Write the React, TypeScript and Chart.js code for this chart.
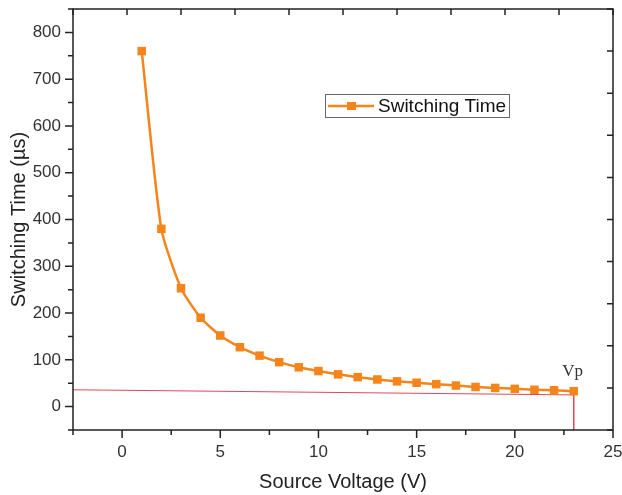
import React, { useEffect, useRef } from "react";
import { Chart, registerables } from "chart.js";

Chart.register(...registerables);

const voltages = [1, 2, 3, 4, 5, 6, 7, 8, 9, 10, 11, 12, 13, 14, 15, 16, 17, 18, 19, 20, 21, 22, 23];
const switchingTimes = [760, 380, 253, 190, 152, 127, 109, 95, 84, 76, 69, 63, 58, 54, 51, 48, 45, 42, 40, 38, 36, 35, 33];
const refLineX = [-2.5, 23, 23];
const refLineY = [36, 25, -50];
const xMajorTicks = [0, 5, 10, 15, 20, 25];
const xMinorTicks = [-2.5, 2.5, 7.5, 12.5, 17.5, 22.5];
const yMajorTicks = [0, 100, 200, 300, 400, 500, 600, 700, 800];
const yMinorTicks = [-50, 50, 150, 250, 350, 450, 550, 650, 750, 850];
const mirrorTicks = [0, 1, 2, 3, 4, 5, 6, 7, 8, 9, 10];
const seriesLabel = "Switching Time";
const vpLabel = "Vp";

const ORANGE = "#f5841a";
const INK = "#222222";
const TXT = "#333333";
const SANS = "'Liberation Sans', Arial, sans-serif";

const framePlugin = {
  id: "frameTicks",
  afterDraw(chart: any) {
    const { ctx, chartArea: a, scales } = chart;
    const x = scales.x, y = scales.y, x2 = scales.x2, y2 = scales.y2;
    ctx.save();
    ctx.strokeStyle = INK;
    ctx.lineWidth = 1.5;
    ctx.strokeRect(a.left, a.top, a.right - a.left, a.bottom - a.top);
    ctx.beginPath();
    xMajorTicks.forEach((v) => { const p = x.getPixelForValue(v); ctx.moveTo(p, a.bottom); ctx.lineTo(p, a.bottom + 8); });
    xMinorTicks.forEach((v) => { const p = x.getPixelForValue(v); ctx.moveTo(p, a.bottom); ctx.lineTo(p, a.bottom + 5); });
    yMajorTicks.forEach((v) => { const p = y.getPixelForValue(v); ctx.moveTo(a.left, p); ctx.lineTo(a.left - 8, p); });
    yMinorTicks.forEach((v) => { const p = y.getPixelForValue(v); ctx.moveTo(a.left, p); ctx.lineTo(a.left - 5, p); });
    mirrorTicks.forEach((v) => { const p = x2.getPixelForValue(v); ctx.moveTo(p, a.top); ctx.lineTo(p, a.top + 6); });
    mirrorTicks.forEach((v) => { const p = y2.getPixelForValue(v); ctx.moveTo(a.right, p); ctx.lineTo(a.right - 6, p); });
    ctx.stroke();

    // Vp label
    ctx.fillStyle = TXT;
    ctx.font = "17px 'Liberation Serif', 'Times New Roman', serif";
    ctx.textAlign = "center";
    ctx.textBaseline = "middle";
    ctx.fillText(vpLabel, x.getPixelForValue(voltages[voltages.length - 1]) - 1, y.getPixelForValue(75));

    // Legend
    const lx = 325, ly = 94, lw = 184, lh = 23;
    ctx.fillStyle = "#ffffff";
    ctx.fillRect(lx, ly, lw, lh);
    ctx.strokeStyle = "#666666";
    ctx.lineWidth = 1;
    ctx.strokeRect(lx + 0.5, ly + 0.5, lw, lh);
    const cy = ly + lh / 2 + 0.5;
    ctx.strokeStyle = ORANGE;
    ctx.lineWidth = 2.5;
    ctx.beginPath();
    ctx.moveTo(lx + 3, cy); ctx.lineTo(lx + 22, cy);
    ctx.moveTo(lx + 31, cy); ctx.lineTo(lx + 49, cy);
    ctx.stroke();
    ctx.fillStyle = ORANGE;
    ctx.fillRect(lx + 22, cy - 4, 9, 8);
    ctx.fillStyle = "#111111";
    ctx.font = "19px " + SANS;
    ctx.textAlign = "left";
    ctx.fillText(seriesLabel, lx + 53, cy + 1);
    ctx.restore();
  },
};

const zeroPad = (s: any) => { s.paddingTop = 0; s.paddingBottom = 0; s.paddingLeft = 0; s.paddingRight = 0; };

export default function App() {
  const ref = useRef<HTMLCanvasElement>(null);
  useEffect(() => {
    if (!ref.current) return;
    const chart = new Chart(ref.current, {
      type: "line",
      data: {
        datasets: [
          {
            label: seriesLabel,
            data: voltages.map((v, i) => ({ x: v, y: switchingTimes[i] })),
            borderColor: ORANGE,
            backgroundColor: ORANGE,
            borderWidth: 2.5,
            pointStyle: "rect",
            pointRadius: 6,
            pointBorderWidth: 0,
            tension: 0.2,
            xAxisID: "x",
            yAxisID: "y",
          },
          {
            label: "ref",
            data: refLineX.map((v, i) => ({ x: v, y: refLineY[i] })),
            borderColor: "#e0485a",
            borderWidth: 1,
            pointRadius: 0,
            tension: 0,
            xAxisID: "x",
            yAxisID: "y",
            order: 2,
          },
        ],
      },
      options: {
        animation: false,
        responsive: false,
        layout: { padding: { top: 9, right: 9, left: 0, bottom: 0 } },
        plugins: { legend: { display: false }, tooltip: { enabled: false } },
        scales: {
          x: {
            type: "linear",
            position: "bottom",
            min: -2.5,
            max: 25,
            afterBuildTicks: (s: any) => { s.ticks = xMajorTicks.map((v) => ({ value: v })); },
            afterFit: (s: any) => { s.height = 65; zeroPad(s); },
            grid: { display: false, drawTicks: false },
            border: { display: false },
            ticks: { padding: 12, color: TXT, font: { size: 17, family: SANS }, maxRotation: 0 },
            title: { display: true, text: "Source Voltage (V)", color: "#222", padding: { top: 0, bottom: 3 }, font: { size: 20, family: SANS, lineHeight: 1 } },
          },
          y: {
            type: "linear",
            position: "left",
            min: -50,
            max: 850,
            afterBuildTicks: (s: any) => { s.ticks = yMajorTicks.map((v) => ({ value: v })); },
            afterFit: (s: any) => { s.width = 73; zeroPad(s); },
            grid: { display: false, drawTicks: false },
            border: { display: false },
            ticks: { padding: 12, color: TXT, font: { size: 17, family: SANS } },
            title: { display: true, text: "Switching Time (µs)", color: "#222", padding: { top: 9, bottom: 0 }, font: { size: 20, family: SANS, lineHeight: 1 } },
          },
          x2: { type: "linear", position: "top", display: false, min: 0, max: 10 },
          y2: { type: "linear", position: "right", display: false, min: 0, max: 10 },
        },
      } as any,
      plugins: [framePlugin],
    });
    return () => chart.destroy();
  }, []);
  return (
    <div style={{ position: "absolute", left: 0, top: 0, width: 622, height: 495, background: "#fff" }}>
      <canvas ref={ref} width={622} height={495} style={{ display: "block" }} />
    </div>
  );
}
